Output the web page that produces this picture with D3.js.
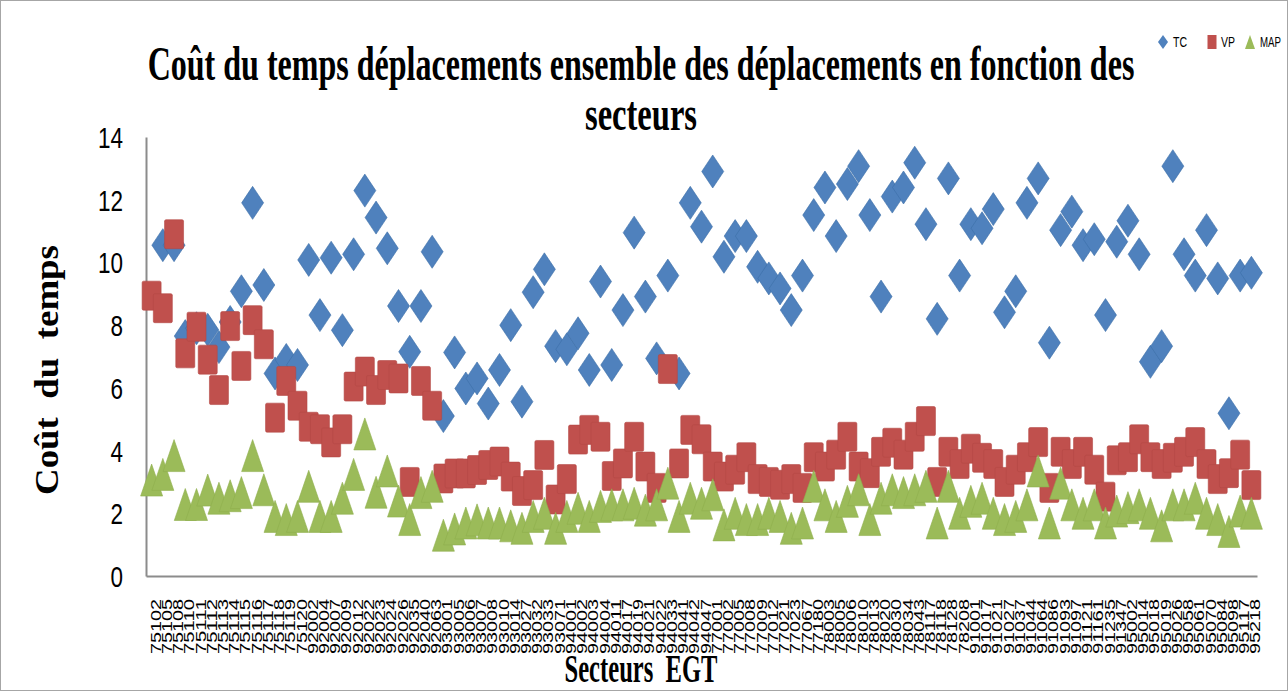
<!DOCTYPE html>
<html>
<head>
<meta charset="utf-8">
<script src="https://cdn.jsdelivr.net/npm/d3@7/dist/d3.min.js"></script>
<style>
  html, body { margin: 0; padding: 0; background: #fff; }
  svg { display: block; }
</style>
</head>
<body>
<svg id="chart" width="1288" height="691"></svg>
<script>
// ---------------- DATA ----------------
const categories = [
  "75102","75105","75108","75110","75111","75112","75113","75114","75115","75116",
  "75117","75118","75119","75120","92002","92004","92007","92009","92012","92022",
  "92023","92024","92026","92035","92040","92063","93001","93005","93006","93007",
  "93008","93010","93014","93027","93032","93033","93071","94001","94002","94003",
  "94004","94011","94017","94019","94021","94022","94033","94041","94042","94047",
  "77001","77002","77005","77008","77009","77012","77021","77023","77067","77180",
  "78003","78005","78006","78010","78013","78020","78030","78034","78043","78117",
  "78118","78128","78208","91001","91017","91021","91027","91037","91044","91064",
  "91086","91093","91097","91121","91161","91235","91347","95002","95014","95018",
  "95019","95026","95058","95061","95070","95084","95098","95117","95218"
];

const tcValues = [
  null,10.55,10.55,7.65,7.9,7.85,7.3,8.1,9.08,11.9,
  9.28,6.46,6.89,6.73,10.08,8.32,10.15,7.84,10.26,12.29,
  11.43,10.45,8.61,7.15,8.61,10.34,5.1,7.13,5.98,6.3,
  5.5,6.57,8.0,5.56,9.05,9.78,7.33,7.23,7.74,6.57,
  9.39,6.73,8.48,10.95,8.91,6.94,9.58,6.46,11.9,11.14,
  12.9,10.18,10.84,10.84,9.86,9.49,9.17,8.48,9.58,11.51,
  12.39,10.84,12.5,13.07,11.51,8.91,12.1,12.39,13.18,11.22,
  8.2,12.68,9.58,11.22,11.09,11.7,8.41,9.08,11.9,12.68,
  7.44,11.03,11.62,10.55,10.74,8.32,10.66,11.33,10.26,6.83,
  7.33,13.07,10.26,9.58,11.03,9.49,5.19,9.58,9.67
];

const vpValues = [
  8.94,8.54,10.9,7.1,7.95,6.9,5.93,7.97,6.7,8.16,
  7.39,5.05,6.22,5.43,4.76,4.68,4.26,4.68,6.04,6.52,
  5.93,6.41,6.3,3.0,6.22,5.43,3.11,3.27,3.27,3.38,
  3.54,3.65,3.17,2.71,2.9,3.86,2.44,3.09,4.35,4.66,
  4.44,3.19,3.59,4.44,3.49,2.81,6.6,3.59,4.66,4.36,
  3.49,3.17,3.39,3.79,3.09,3.0,2.91,3.09,2.81,3.79,
  3.49,3.87,4.44,3.49,3.28,3.96,4.25,3.87,4.44,4.94,
  3.0,3.96,3.57,4.06,3.77,3.57,3.0,3.39,3.79,4.27,
  2.81,3.96,3.57,3.96,3.39,2.53,3.69,3.79,4.36,3.79,
  3.57,3.77,3.96,4.27,3.57,3.09,3.28,3.87,2.9
];

const mapValues = [
  3.06,3.24,3.84,2.28,2.28,2.74,2.48,2.56,2.66,3.84,
  2.75,1.9,1.8,1.9,2.86,1.9,1.9,2.48,3.24,4.53,
  2.67,3.35,2.39,1.8,2.66,2.86,1.3,1.5,1.69,1.79,
  1.69,1.69,1.6,1.52,1.9,2.0,1.52,1.9,2.16,1.9,
  2.22,2.27,2.27,2.32,2.1,2.27,2.96,1.9,2.48,2.32,
  2.59,1.63,2.0,1.8,1.8,2.0,1.9,1.52,1.69,2.86,
  2.27,1.9,2.38,2.75,1.8,2.48,2.75,2.66,2.75,2.86,
  1.69,2.86,2.0,2.38,2.48,2.0,1.8,1.9,2.27,3.35,
  1.69,2.96,2.27,2.0,2.27,1.69,2.07,2.18,2.27,2.0,
  1.6,2.27,2.27,2.48,2.0,1.8,1.42,2.07,2.0
];

const seriesNames = ["TC", "VP", "MAP"];
const seriesColors = ["#4F81BD", "#C0504D", "#9BBB59"];
const yTicks = [0, 2, 4, 6, 8, 10, 12, 14];

const titleLines = ["Coût du temps déplacements ensemble des déplacements en fonction des", "secteurs"];
const yTitle = "Coût  du  temps";
const xTitle = "Secteurs  EGT";

// ---------------- LAYOUT ----------------
const W = 1288, H = 691;
const plot = { left: 146, right: 1257, top: 137, bottom: 576 };
const SERIF = "'Liberation Serif', 'Times New Roman', serif";
const SANS = "'Liberation Sans', Arial, sans-serif";

const svg = d3.select("#chart");

// squeeze/stretch a text horizontally (in its own frame) to a target length
function fitWidth(node, target, baseTransform) {
  const w = node.getComputedTextLength();
  const s = w > 0 ? target / w : 1;
  d3.select(node).attr("transform", `${baseTransform} scale(${s},1)`);
}

// outer frame
svg.append("rect")
  .attr("x", 0.5).attr("y", 0.5)
  .attr("width", W - 1).attr("height", H - 1)
  .attr("fill", "#fff").attr("stroke", "#a6a6a6").attr("stroke-width", 1);

const x = d3.scaleBand().domain(categories).range([plot.left, plot.right]).padding(0);
const y = d3.scaleLinear().domain([0, 14]).range([plot.bottom, plot.top]);
const cx = c => x(c) + x.bandwidth() / 2;

// ---------------- TITLE ----------------
const titleSpecs = [
  { text: titleLines[0], cx: 641, base: 80, width: 987 },
  { text: titleLines[1], cx: 641, base: 130, width: 112 }
];
titleSpecs.forEach(t => {
  const el = svg.append("text")
    .attr("x", 0).attr("y", 0)
    .attr("text-anchor", "middle")
    .attr("font-family", SERIF)
    .attr("font-weight", "bold")
    .attr("font-size", 48)
    .attr("fill", "#000")
    .text(t.text);
  fitWidth(el.node(), t.width, `translate(${t.cx},${t.base})`);
});

// ---------------- Y AXIS ----------------
const yAxis = d3.axisLeft(y).tickValues(yTicks).tickSize(0).tickPadding(24);
const yG = svg.append("g")
  .attr("transform", `translate(${plot.left},0)`)
  .call(yAxis);
yG.select(".domain").attr("stroke", "#8c8c8c").attr("stroke-width", 2);
yG.selectAll(".tick text")
  .attr("font-family", SANS)
  .attr("font-size", 29)
  .attr("fill", "#000")
  .attr("text-anchor", "end")
  .attr("x", 0)
  .attr("dy", "0.36em")
  .each(function(d) {
    fitWidth(this, 12.5 * String(d).length, "translate(-23,0)");
  });

// ---------------- X AXIS ----------------
const xAxis = d3.axisBottom(x).tickSize(0).tickPadding(0);
const xG = svg.append("g")
  .attr("transform", `translate(0,${plot.bottom})`)
  .call(xAxis);
xG.select(".domain").attr("stroke", "#8c8c8c").attr("stroke-width", 2);
xG.selectAll(".tick text")
  .attr("font-family", SANS)
  .attr("font-size", 14)
  .attr("fill", "#000")
  .attr("text-anchor", "end")
  .attr("x", 0).attr("y", 0)
  .attr("dy", "0.36em")
  .each(function() {
    fitWidth(this, 55, "translate(4,23) rotate(-90)");
  });

// ---------------- AXIS TITLES ----------------
const yt = svg.append("text")
  .attr("x", 0).attr("y", 0)
  .attr("text-anchor", "middle")
  .attr("font-family", SERIF)
  .attr("font-weight", "bold")
  .attr("font-size", 34)
  .attr("fill", "#000")
  .style("white-space", "pre")
  .text(yTitle);
fitWidth(yt.node(), 250, "translate(58,370) rotate(-90)");

const xt = svg.append("text")
  .attr("x", 0).attr("y", 0)
  .attr("text-anchor", "middle")
  .attr("font-family", SERIF)
  .attr("font-weight", "bold")
  .attr("font-size", 40)
  .attr("fill", "#000")
  .style("white-space", "pre")
  .text(xTitle);
fitWidth(xt.node(), 153, "translate(641,682)");

// ---------------- MARKERS ----------------
const diamondPath = "M0,-16.5L11,0L0,16.5L-11,0Z";
const trianglePath = "M0,-16L11,16L-11,16Z";

function series(vals) {
  return categories.map((c, i) => ({ c, v: vals[i] })).filter(d => d.v != null);
}

// TC diamonds (drawn first)
svg.append("g").selectAll("path")
  .data(series(tcValues))
  .join("path")
  .attr("d", diamondPath)
  .attr("transform", d => `translate(${cx(d.c)},${y(d.v)})`)
  .attr("fill", seriesColors[0])
  .attr("stroke", "#3c6ea8").attr("stroke-width", 0.6);

// VP squares
svg.append("g").selectAll("rect")
  .data(series(vpValues))
  .join("rect")
  .attr("x", d => cx(d.c) - 9.5)
  .attr("y", d => y(d.v) - 14.5)
  .attr("width", 19).attr("height", 29)
  .attr("rx", 1.5)
  .attr("fill", seriesColors[1])
  .attr("stroke", "#b44844").attr("stroke-width", 0.6);

// MAP triangles
svg.append("g").selectAll("path")
  .data(series(mapValues))
  .join("path")
  .attr("d", trianglePath)
  .attr("transform", d => `translate(${cx(d.c)},${y(d.v)})`)
  .attr("fill", seriesColors[2])
  .attr("stroke", "#8fae4e").attr("stroke-width", 0.6);

// ---------------- LEGEND ----------------
const legendItems = [
  { name: seriesNames[0], color: seriesColors[0], shape: "diamond", mx: 1163, tx: 1173 },
  { name: seriesNames[1], color: seriesColors[1], shape: "square", mx: 1212, tx: 1221 },
  { name: seriesNames[2], color: seriesColors[2], shape: "triangle", mx: 1250, tx: 1260 }
];
const lg = svg.append("g");
legendItems.forEach(it => {
  if (it.shape === "diamond") {
    lg.append("path").attr("d", "M0,-7L5,0L0,7L-5,0Z")
      .attr("transform", `translate(${it.mx},42)`).attr("fill", it.color);
  } else if (it.shape === "square") {
    lg.append("rect").attr("x", it.mx - 4.5).attr("y", 35).attr("width", 9).attr("height", 14)
      .attr("fill", it.color);
  } else {
    lg.append("path").attr("d", "M0,-7L5,7L-5,7Z")
      .attr("transform", `translate(${it.mx},42)`).attr("fill", it.color);
  }
  const t = lg.append("text")
    .attr("x", 0).attr("y", 0)
    .attr("font-family", SANS)
    .attr("font-size", 15)
    .attr("fill", "#000")
    .text(it.name);
  fitWidth(t.node(), it.name.length * 7.0, `translate(${it.tx},47)`);
});
</script>
</body>
</html>
